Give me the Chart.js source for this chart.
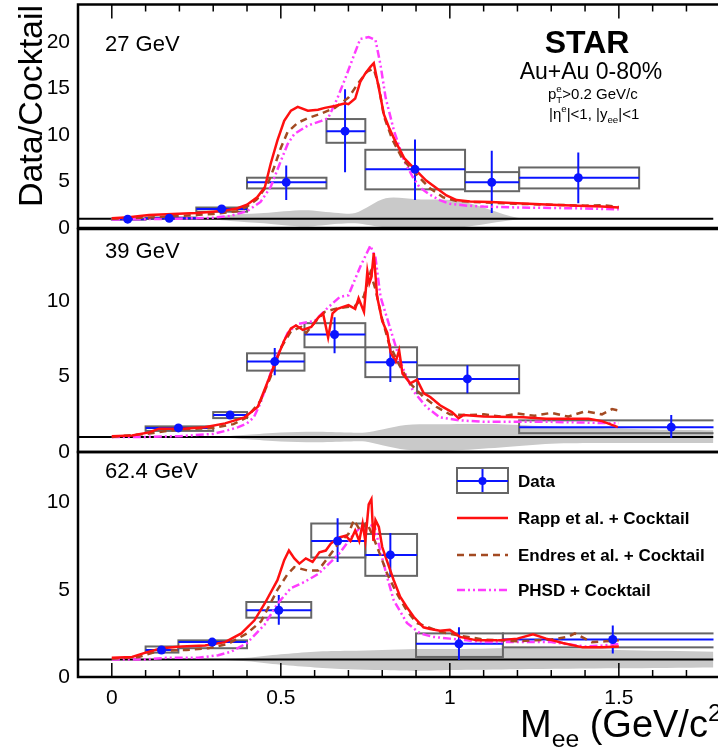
<!DOCTYPE html>
<html><head><meta charset="utf-8">
<script src="https://cdn.jsdelivr.net/npm/chart.js@4.4.1/dist/chart.umd.min.js"></script>
<style>
html,body{margin:0;padding:0;background:#fff;}
#wrap{position:relative;width:718px;height:750px;overflow:hidden;background:#fff;}
canvas{position:absolute;left:0;top:0;}
</style></head><body>
<div id="wrap">
<canvas id="c1" width="718" height="750"></canvas>
<canvas id="c2" width="718" height="750"></canvas>
<canvas id="c3" width="718" height="750"></canvas>
</div>
<script>
// ---------------- text / categories ----------------
const panelLabels = ['27 GeV', '39 GeV', '62.4 GeV'];
const seriesNames = ['Data', 'Rapp et al. + Cocktail', 'Endres et al. + Cocktail', 'PHSD + Cocktail'];
const xTickValues = [0, 0.5, 1, 1.5];
const xTickLabels = ['0', '0.5', '1', '1.5'];
const xMinorTicks = [0, 0.1, 0.2, 0.3, 0.4, 0.5, 0.6, 0.7, 0.8, 0.9, 1.0, 1.1, 1.2, 1.3, 1.4, 1.5, 1.6, 1.7];
const yTicks27 = [0, 5, 10, 15, 20];
const yTicks39 = [0, 5, 10];
const yTicks62 = [0, 5, 10];
const yTitle = 'Data/Cocktail';
const starLabel = 'STAR';
const systemLabel = 'Au+Au 0-80%';

// ---------------- 27 GeV ----------------
const data27X = [0.047, 0.17, 0.325, 0.516, 0.69, 0.897, 1.124, 1.38];
const data27Y = [0.95, 1.05, 2.05, 4.9, 10.4, 6.3, 4.9, 5.4];
const bin27Lo = [0.0, 0.10, 0.25, 0.40, 0.635, 0.75, 1.045, 1.205];
const bin27Hi = [0.10, 0.25, 0.40, 0.635, 0.75, 1.045, 1.205, 1.56];
const stat27Lo = [0.85, 0.95, 1.9, 3.0, 6.0, 3.0, 1.6, 2.65];
const stat27Hi = [1.05, 1.15, 2.2, 6.7, 14.9, 9.5, 8.3, 8.1];
const sys27Lo = [0.9, 0.98, 1.75, 4.25, 9.15, 4.15, 3.95, 4.25];
const sys27Hi = [1.0, 1.12, 2.2, 5.4, 11.7, 8.4, 6.0, 6.5];
const rapp27X = [0.0, 0.05, 0.11, 0.18, 0.25, 0.30, 0.34, 0.37, 0.40, 0.43, 0.453, 0.47, 0.49, 0.51, 0.53, 0.55, 0.58, 0.61, 0.63, 0.66, 0.69, 0.70, 0.72, 0.735, 0.75, 0.765, 0.775, 0.79, 0.805, 0.82, 0.835, 0.865, 0.90, 0.93, 0.96, 0.99, 1.02, 1.06, 1.12, 1.20, 1.30, 1.38, 1.45, 1.50];
const rapp27Y = [1.05, 1.15, 1.4, 1.5, 1.6, 1.75, 1.9, 2.1, 2.5, 3.3, 4.4, 6.9, 9.4, 11.5, 12.6, 13.0, 12.6, 12.7, 12.9, 13.1, 13.4, 13.3, 13.9, 15.7, 16.6, 17.3, 17.7, 15.0, 12.2, 10.8, 9.6, 7.5, 6.2, 5.1, 4.3, 3.5, 3.0, 2.85, 2.8, 2.65, 2.5, 2.4, 2.3, 2.2];
const endres27X = [0.0, 0.1, 0.2, 0.3, 0.37, 0.40, 0.43, 0.46, 0.48, 0.50, 0.52, 0.55, 0.58, 0.62, 0.66, 0.70, 0.73, 0.755, 0.775, 0.79, 0.805, 0.83, 0.86, 0.90, 0.94, 0.98, 1.02, 1.10, 1.20, 1.30, 1.40, 1.45, 1.50];
const endres27Y = [1.0, 1.1, 1.3, 1.5, 1.8, 2.3, 3.1, 4.6, 6.5, 8.6, 10.3, 11.3, 11.8, 12.3, 12.9, 14.0, 15.6, 16.8, 17.1, 15.2, 12.0, 9.5, 7.4, 5.8, 4.3, 3.3, 2.9, 2.75, 2.6, 2.5, 2.4, 2.45, 2.25];
const phsd27X = [0.0, 0.1, 0.2, 0.3, 0.35, 0.40, 0.44, 0.47, 0.50, 0.52, 0.54, 0.58, 0.62, 0.64, 0.667, 0.69, 0.717, 0.735, 0.76, 0.78, 0.795, 0.81, 0.835, 0.865, 0.89, 0.91, 0.94, 0.97, 1.00, 1.05, 1.10, 1.20, 1.30, 1.40, 1.50];
const phsd27Y = [0.9, 0.95, 1.0, 1.1, 1.3, 1.8, 2.8, 4.4, 7.2, 9.0, 10.1, 11.0, 11.5, 11.8, 13.9, 16.0, 18.6, 20.3, 20.5, 20.2, 17.5, 14.0, 10.4, 7.2, 5.5, 4.4, 3.6, 3.0, 2.6, 2.4, 2.3, 2.2, 2.15, 2.1, 2.0];
const band27X = [0.0, 0.2, 0.3, 0.35, 0.45, 0.57, 0.67, 0.72, 0.81, 0.9, 1.03, 1.2, 1.3, 1.78];
const band27Up = [1.0, 1.0, 1.15, 1.4, 1.6, 1.9, 1.6, 1.6, 3.2, 3.1, 2.9, 1.1, 1.0, 1.0];
const band27Lo = [1.0, 1.0, 0.9, 0.75, 0.5, 0.15, 0.45, 0.5, 0.05, 0.0, 0.05, 0.9, 1.0, 1.0];

// ---------------- 39 GeV ----------------
const data39X = [0.197, 0.35, 0.482, 0.659, 0.824, 1.052, 1.655];
const data39Y = [1.6, 2.45, 6.0, 7.8, 5.95, 4.85, 1.65];
const bin39Lo = [0.10, 0.30, 0.40, 0.57, 0.75, 0.903, 1.205];
const bin39Hi = [0.30, 0.40, 0.57, 0.75, 0.903, 1.205, 2.0];
const stat39Lo = [1.5, 2.3, 5.1, 6.55, 4.65, 3.9, 0.93];
const stat39Hi = [1.7, 2.6, 6.9, 8.95, 6.95, 5.75, 2.45];
const sys39Lo = [1.4, 2.25, 5.4, 6.95, 4.97, 3.9, 1.25];
const sys39Hi = [1.7, 2.65, 6.55, 8.55, 6.95, 5.75, 2.1];
const rapp39X = [0.0, 0.06, 0.11, 0.14, 0.21, 0.275, 0.335, 0.393, 0.432, 0.46, 0.49, 0.51, 0.53, 0.545, 0.565, 0.59, 0.61, 0.625, 0.64, 0.653, 0.668, 0.68, 0.70, 0.72, 0.73, 0.746, 0.756, 0.762, 0.768, 0.775, 0.785, 0.80, 0.815, 0.825, 0.84, 0.85, 0.86, 0.883, 0.903, 0.923, 0.942, 0.971, 1.006, 1.026, 1.04, 1.10, 1.217, 1.285, 1.353, 1.41, 1.45, 1.497];
const rapp39Y = [1.05, 1.1, 1.3, 1.55, 1.55, 1.65, 1.9, 2.3, 3.0, 4.6, 6.3, 7.4, 8.2, 8.4, 8.1, 8.3, 8.9, 9.2, 7.6, 9.2, 9.5, 9.6, 9.75, 9.5, 10.2, 9.3, 12.0, 11.2, 11.6, 13.2, 10.3, 8.7, 7.9, 6.6, 6.0, 6.75, 5.2, 4.55, 4.8, 3.9, 3.65, 3.1, 2.65, 2.25, 2.45, 2.35, 2.3, 2.2, 2.2, 2.2, 2.05, 1.65];
const endres39X = [0.0, 0.1, 0.2, 0.3, 0.36, 0.40, 0.44, 0.47, 0.50, 0.53, 0.56, 0.575, 0.60, 0.63, 0.66, 0.69, 0.72, 0.745, 0.765, 0.78, 0.80, 0.82, 0.85, 0.88, 0.92, 0.96, 1.0, 1.05, 1.10, 1.15, 1.20, 1.25, 1.30, 1.35, 1.40, 1.45, 1.48, 1.50];
const endres39Y = [1.0, 1.2, 1.5, 1.6, 1.85, 2.3, 3.4, 5.0, 6.9, 8.0, 8.3, 7.9, 8.6, 9.3, 9.5, 9.6, 9.7, 10.3, 11.9, 10.8, 8.8, 7.2, 5.8, 4.6, 3.7, 3.0, 2.5, 2.45, 2.5, 2.35, 2.55, 2.4, 2.6, 2.35, 2.7, 2.5, 2.85, 2.75];
const phsd39X = [0.0, 0.1, 0.2, 0.3, 0.344, 0.374, 0.40, 0.42, 0.44, 0.48, 0.52, 0.55, 0.60, 0.64, 0.675, 0.70, 0.735, 0.765, 0.78, 0.795, 0.825, 0.855, 0.89, 0.93, 0.97, 1.03, 1.10, 1.20, 1.30, 1.40, 1.50];
const phsd39Y = [1.0, 1.0, 1.05, 1.2, 1.45, 1.65, 1.9, 2.3, 3.25, 5.9, 7.9, 8.5, 8.7, 9.6, 10.3, 10.4, 12.3, 13.7, 12.9, 10.3, 8.1, 5.9, 4.1, 3.0, 2.3, 2.1, 2.0, 2.0, 2.0, 1.95, 1.9];
const band39X = [0.0, 0.3, 0.4, 0.5, 0.6, 0.7, 0.75, 0.8, 0.87, 1.0, 1.15, 1.3, 1.45, 1.6, 1.78];
const band39Up = [1.0, 1.02, 1.15, 1.3, 1.35, 1.3, 1.3, 1.5, 1.8, 1.85, 1.85, 1.7, 1.6, 1.5, 1.45];
const band39Lo = [1.0, 0.98, 0.85, 0.7, 0.65, 0.7, 0.7, 0.45, 0.15, 0.1, 0.3, 0.55, 0.6, 0.6, 0.6];

// ---------------- 62.4 GeV ----------------
const data62X = [0.147, 0.297, 0.494, 0.668, 0.824, 1.027, 1.482];
const data62Y = [1.55, 2.0, 3.83, 7.8, 7.0, 1.9, 2.15];
const bin62Lo = [0.10, 0.197, 0.398, 0.59, 0.75, 0.90, 1.157];
const bin62Hi = [0.197, 0.40, 0.59, 0.75, 0.903, 1.157, 2.0];
const stat62Lo = [1.45, 1.9, 3.0, 6.6, 5.75, 0.97, 1.35];
const stat62Hi = [1.65, 2.1, 4.7, 9.1, 8.25, 2.85, 2.95];
const sys62Lo = [1.4, 1.65, 3.4, 6.85, 5.8, 1.15, 1.7];
const sys62Hi = [1.75, 2.1, 4.3, 8.8, 8.2, 2.5, 2.5];
const rapp62X = [0.0, 0.06, 0.10, 0.147, 0.206, 0.276, 0.335, 0.383, 0.422, 0.452, 0.49, 0.51, 0.524, 0.54, 0.555, 0.574, 0.594, 0.614, 0.633, 0.648, 0.673, 0.692, 0.706, 0.72, 0.732, 0.742, 0.75, 0.76, 0.768, 0.774, 0.78, 0.79, 0.80, 0.815, 0.834, 0.853, 0.873, 0.893, 0.922, 0.942, 0.971, 1.0, 1.03, 1.08, 1.14, 1.2, 1.246, 1.285, 1.334, 1.393, 1.45, 1.50];
const rapp62Y = [1.1, 1.15, 1.4, 1.65, 1.75, 1.8, 2.0, 2.5, 3.25, 4.2, 5.55, 6.7, 7.25, 6.8, 6.5, 6.8, 6.6, 7.15, 7.25, 7.65, 8.0, 8.1, 7.8, 8.4, 7.8, 8.8, 7.8, 9.9, 10.2, 7.8, 9.0, 8.6, 7.45, 6.6, 5.55, 4.6, 4.0, 3.45, 2.85, 2.75, 2.65, 2.7, 2.3, 2.1, 2.1, 2.2, 2.45, 2.2, 1.95, 1.7, 1.7, 1.75];
const endres62X = [0.0, 0.08, 0.14, 0.22, 0.285, 0.344, 0.40, 0.442, 0.49, 0.52, 0.54, 0.58, 0.61, 0.64, 0.67, 0.70, 0.716, 0.735, 0.755, 0.778, 0.796, 0.815, 0.843, 0.873, 0.902, 0.93, 0.97, 1.02, 1.10, 1.20, 1.25, 1.30, 1.35, 1.37, 1.42, 1.46, 1.50];
const endres62Y = [1.05, 1.15, 1.5, 1.55, 1.65, 1.9, 2.5, 3.2, 5.0, 5.9, 6.3, 6.1, 6.1, 6.85, 7.65, 8.2, 9.0, 8.4, 8.85, 7.8, 6.9, 5.9, 4.8, 3.8, 3.1, 2.9, 2.6, 2.4, 2.15, 2.05, 2.1, 2.15, 2.3, 2.5, 2.0, 2.05, 2.1];
const phsd62X = [0.0, 0.1, 0.16, 0.256, 0.315, 0.353, 0.40, 0.452, 0.49, 0.53, 0.57, 0.61, 0.648, 0.676, 0.716, 0.75, 0.778, 0.796, 0.815, 0.834, 0.873, 0.912, 0.95, 1.0, 1.05, 1.1, 1.2, 1.3, 1.4, 1.45, 1.5];
const phsd62Y = [1.0, 1.0, 1.1, 1.1, 1.25, 1.45, 1.95, 3.0, 4.2, 5.1, 5.45, 5.9, 6.6, 7.15, 8.2, 8.85, 8.6, 7.1, 5.7, 4.4, 3.1, 2.5, 2.3, 2.2, 2.1, 2.0, 2.0, 2.0, 1.75, 1.8, 1.9];
const band62X = [0.0, 0.3, 0.4, 0.5, 0.6, 0.7, 0.8, 0.9, 1.0, 1.2, 1.5, 1.78];
const band62Up = [1.0, 1.0, 1.1, 1.3, 1.45, 1.5, 1.55, 1.6, 1.6, 1.65, 1.55, 1.45];
const band62Lo = [1.0, 1.0, 0.9, 0.7, 0.55, 0.45, 0.4, 0.35, 0.4, 0.45, 0.5, 0.55];

// ---------------- styling / layout ----------------
const FONT = '"Liberation Sans", Arial, Helvetica, sans-serif';
const C_RED = '#ff1010', C_BROWN = '#a34a22', C_MAG = '#ff3cff', C_BLUE = '#0a14ff', C_BOX = '#666666', C_BAND = '#c9c9c9';
const DASH_ENDRES = [7, 5];
const DASH_PHSD = [8, 3, 2, 3, 2, 3];
const X_MIN = -0.1, X_MAX = 1.78;

function zip(xs, ys) {
  const n = Math.min(xs.length, ys.length), out = [];
  for (let i = 0; i < n; i++) out.push({ x: xs[i], y: ys[i] });
  return out;
}

function richText(ctx, x, y, parts, size, weight) {
  let cx = x;
  const w = weight ? weight + ' ' : '';
  for (const part of parts) {
    const txt = part[0], kind = part[1];
    if (kind === 'n') {
      ctx.font = w + size + 'px ' + FONT;
      ctx.fillText(txt, cx, y); cx += ctx.measureText(txt).width;
    } else if (kind === 'sup' || kind === 'sub') {
      const s = size * 0.65;
      ctx.font = w + s + 'px ' + FONT;
      const dy = kind === 'sup' ? -size * 0.42 : size * 0.27;
      ctx.fillText(txt, cx, y + dy); cx += ctx.measureText(txt).width;
    } else if (kind === 'supsub') {
      const s = size * 0.65;
      ctx.font = w + s + 'px ' + FONT;
      ctx.fillText(txt, cx, y - size * 0.42);
      const w1 = ctx.measureText(txt).width;
      ctx.fillText(part[2], cx, y + size * 0.3);
      const w2 = ctx.measureText(part[2]).width;
      cx += Math.max(w1, w2);
    }
  }
  return cx;
}

const ptCutParts = [['p', 'n'], ['e', 'supsub', 'T'], ['>0.2 GeV/c', 'n']];
const etaCutParts = [['|\u03B7', 'n'], ['e', 'sup'], ['|<1, |y', 'n'], ['ee', 'sub'], ['|<1', 'n']];
const xTitleParts = [['M', 'n'], ['ee', 'sub'], [' (GeV/c', 'n'], ['2', 'sup'], [')', 'n']];

const panels = [
  { canvas: 'c1', label: panelLabels[0], yMax: 24, yTicks: yTicks27, padTop: 2, padBottom: 522, showX: false, ticksTop: true, ticksBottom: false, labelDy: 46,
    dataX: data27X, dataY: data27Y, binLo: bin27Lo, binHi: bin27Hi, statLo: stat27Lo, statHi: stat27Hi, sysLo: sys27Lo, sysHi: sys27Hi,
    rappX: rapp27X, rappY: rapp27Y, endresX: endres27X, endresY: endres27Y, phsdX: phsd27X, phsdY: phsd27Y, bandX: band27X, bandUp: band27Up, bandLo: band27Lo, first: true },
  { canvas: 'c2', label: panelLabels[1], yMax: 14.8, yTicks: yTicks39, padTop: 229, padBottom: 298, showX: false, ticksTop: false, ticksBottom: false, labelDy: 29,
    dataX: data39X, dataY: data39Y, binLo: bin39Lo, binHi: bin39Hi, statLo: stat39Lo, statHi: stat39Hi, sysLo: sys39Lo, sysHi: sys39Hi,
    rappX: rapp39X, rappY: rapp39Y, endresX: endres39X, endresY: endres39Y, phsdX: phsd39X, phsdY: phsd39Y, bandX: band39X, bandUp: band39Up, bandLo: band39Lo },
  { canvas: 'c3', label: panelLabels[2], yMax: 12.9, yTicks: yTicks62, padTop: 452, padBottom: 33, showX: true, ticksTop: false, ticksBottom: true, labelDy: 26,
    dataX: data62X, dataY: data62Y, binLo: bin62Lo, binHi: bin62Hi, statLo: stat62Lo, statHi: stat62Hi, sysLo: sys62Lo, sysHi: sys62Hi,
    rappX: rapp62X, rappY: rapp62Y, endresX: endres62X, endresY: endres62Y, phsdX: phsd62X, phsdY: phsd62Y, bandX: band62X, bandUp: band62Up, bandLo: band62Lo, last: true }
];

function drawData(chart, p) {
  const { ctx, chartArea: ca, scales: { x, y } } = chart;
  ctx.save();
  ctx.beginPath(); ctx.rect(ca.left, ca.top, ca.right - ca.left, ca.bottom - ca.top); ctx.clip();
  ctx.strokeStyle = '#000'; ctx.lineWidth = 2;
  const y1 = y.getPixelForValue(1);
  ctx.beginPath(); ctx.moveTo(ca.left, y1); ctx.lineTo(ca.right, y1); ctx.stroke();
  ctx.strokeStyle = C_BOX; ctx.lineWidth = 2;
  for (let i = 0; i < p.dataX.length; i++) {
    const x0 = x.getPixelForValue(p.binLo[i]), x1 = x.getPixelForValue(p.binHi[i]);
    const yt = y.getPixelForValue(p.sysHi[i]), yb = y.getPixelForValue(p.sysLo[i]);
    ctx.strokeRect(x0, yt, x1 - x0, yb - yt);
  }
  ctx.strokeStyle = C_BLUE; ctx.lineWidth = 2;
  for (let i = 0; i < p.dataX.length; i++) {
    const px = x.getPixelForValue(p.dataX[i]), py = y.getPixelForValue(p.dataY[i]);
    ctx.beginPath();
    ctx.moveTo(x.getPixelForValue(p.binLo[i]), py); ctx.lineTo(x.getPixelForValue(p.binHi[i]), py);
    ctx.moveTo(px, y.getPixelForValue(p.statLo[i])); ctx.lineTo(px, y.getPixelForValue(p.statHi[i]));
    ctx.stroke();
  }
  ctx.restore();
}

function drawFrame(chart, p) {
  const { ctx, chartArea: ca, scales: { x } } = chart;
  ctx.save();
  ctx.strokeStyle = '#000'; ctx.lineWidth = 2.5;
  ctx.beginPath();
  ctx.moveTo(ca.right + 5, ca.top); ctx.lineTo(ca.left, ca.top); ctx.lineTo(ca.left, ca.bottom); ctx.lineTo(ca.right + 5, ca.bottom);
  ctx.stroke();
  ctx.lineWidth = 1.5;
  ctx.beginPath();
  for (const v of xMinorTicks) {
    const px = x.getPixelForValue(v);
    const len = xTickValues.includes(v) ? 14 : 7;
    if (p.ticksTop) { ctx.moveTo(px, ca.top); ctx.lineTo(px, ca.top + len); }
    if (p.ticksBottom) { ctx.moveTo(px, ca.bottom); ctx.lineTo(px, ca.bottom - len); }
  }
  ctx.stroke();
  ctx.restore();
}

function drawTexts(chart, p) {
  const { ctx, chartArea: ca } = chart;
  ctx.save();
  ctx.fillStyle = '#000'; ctx.textBaseline = 'alphabetic'; ctx.textAlign = 'left';
  ctx.font = '22px ' + FONT;
  ctx.fillText(p.label, ca.left + 27, ca.top + p.labelDy);
  if (p.first) {
    ctx.textAlign = 'center';
    ctx.font = 'bold 32px ' + FONT;
    ctx.fillText(starLabel, ca.left + 509, ca.top + 48);
    ctx.font = '23px ' + FONT;
    ctx.fillText(systemLabel, ca.left + 513, ca.top + 74);
    ctx.textAlign = 'left';
    richText(ctx, ca.left + 470, ca.top + 94, ptCutParts, 15);
    richText(ctx, ca.left + 471, ca.top + 114, etaCutParts, 15);
    ctx.save();
    ctx.translate(42, 106);
    ctx.rotate(-Math.PI / 2);
    ctx.textAlign = 'center';
    ctx.font = '34px ' + FONT;
    ctx.fillText(yTitle, 0, 0);
    ctx.restore();
  }
  if (p.last) {
    ctx.textAlign = 'left';
    richText(ctx, 520, 737, xTitleParts, 38);
    drawLegend(chart);
  }
  ctx.restore();
}

function drawLegend(chart) {
  const { ctx, chartArea: ca } = chart;
  const x0 = ca.left + 379, x1 = x0 + 51, tx = ca.left + 440;
  const rows = [ca.top + 29, ca.top + 66, ca.top + 103, ca.top + 138];
  const ds = chart.data.datasets;
  const byLabel = (l) => ds.find(d => d.label === l);
  ctx.save();
  ctx.strokeStyle = C_BOX; ctx.lineWidth = 2;
  ctx.strokeRect(x0, rows[0] - 13, x1 - x0, 25);
  ctx.strokeStyle = C_BLUE; ctx.lineWidth = 2;
  ctx.beginPath();
  ctx.moveTo(x0, rows[0]); ctx.lineTo(x1, rows[0]);
  ctx.moveTo((x0 + x1) / 2, rows[0] - 12); ctx.lineTo((x0 + x1) / 2, rows[0] + 11);
  ctx.stroke();
  ctx.fillStyle = C_BLUE;
  ctx.beginPath(); ctx.arc((x0 + x1) / 2, rows[0], 4, 0, Math.PI * 2); ctx.fill();
  for (let k = 1; k < 4; k++) {
    const d = byLabel(seriesNames[k]);
    ctx.strokeStyle = d.borderColor; ctx.lineWidth = d.borderWidth;
    ctx.setLineDash(d.borderDash || []);
    ctx.beginPath(); ctx.moveTo(x0, rows[k]); ctx.lineTo(x1, rows[k]); ctx.stroke();
  }
  ctx.setLineDash([]);
  ctx.fillStyle = '#000'; ctx.textBaseline = 'middle'; ctx.textAlign = 'left';
  ctx.font = 'bold 17px ' + FONT;
  for (let k = 0; k < 4; k++) ctx.fillText(seriesNames[k], tx, rows[k] + 1);
  ctx.restore();
}

function makeChart(p) {
  const deco = {
    id: 'deco_' + p.canvas,
    afterDatasetDraw(chart, args) {
      if (chart.data.datasets[args.index].decoAfter) drawData(chart, p);
    },
    afterDraw(chart) { drawFrame(chart, p); drawTexts(chart, p); }
  };
  const lineBase = { fill: false, pointRadius: 0, tension: 0, borderWidth: 2.5 };
  return new Chart(document.getElementById(p.canvas), {
    type: 'line',
    data: {
      datasets: [
        { label: 'band', data: zip(p.bandX, p.bandUp), fill: '+1', backgroundColor: C_BAND, borderColor: 'rgba(0,0,0,0)', borderWidth: 1, pointRadius: 0, tension: 0.3, order: 10 },
        { label: 'bandLow', data: zip(p.bandX, p.bandLo), fill: false, borderColor: 'rgba(0,0,0,0)', borderWidth: 1, pointRadius: 0, tension: 0.3, order: 9, decoAfter: true },
        Object.assign({ label: seriesNames[3], data: zip(p.phsdX, p.phsdY), borderColor: C_MAG, borderDash: DASH_PHSD, order: 3 }, lineBase),
        Object.assign({ label: seriesNames[2], data: zip(p.endresX, p.endresY), borderColor: C_BROWN, borderDash: DASH_ENDRES, order: 2 }, lineBase),
        Object.assign({ label: seriesNames[1], data: zip(p.rappX, p.rappY), borderColor: C_RED, order: 1 }, lineBase),
        { label: seriesNames[0], data: zip(p.dataX, p.dataY), showLine: false, pointRadius: 4.5, pointBackgroundColor: C_BLUE, pointBorderColor: C_BLUE, pointBorderWidth: 0, order: 0 }
      ]
    },
    options: {
      responsive: false, animation: false, devicePixelRatio: 1, events: [],
      layout: { padding: { top: p.padTop, bottom: p.padBottom, left: 0, right: 0 } },
      plugins: { legend: { display: false }, tooltip: { enabled: false }, title: { display: false } },
      scales: {
        x: {
          type: 'linear', min: X_MIN, max: X_MAX, display: p.showX,
          grid: { display: false, drawTicks: false }, border: { display: false },
          ticks: { font: { family: FONT, size: 21 }, color: '#000', padding: 9, maxRotation: 0, autoSkip: false,
                   callback: (v, i) => xTickLabels[i] },
          afterBuildTicks: s => { s.ticks = xTickValues.map(v => ({ value: v })); },
          afterFit: s => { s.height = p.showX ? 40 : 0; s.paddingLeft = 0; s.paddingRight = 0; }
        },
        y: {
          type: 'linear', min: 0, max: p.yMax,
          grid: { display: false, drawTicks: false }, border: { display: false },
          ticks: { font: { family: FONT, size: 21 }, color: '#000', padding: 8, callback: v => String(v) },
          afterBuildTicks: s => { s.ticks = p.yTicks.map(v => ({ value: v })); },
          afterFit: s => { s.width = 78; s.paddingTop = 0; s.paddingBottom = 0; }
        }
      }
    },
    plugins: [deco]
  });
}

panels.forEach(makeChart);
</script>
</body></html>
